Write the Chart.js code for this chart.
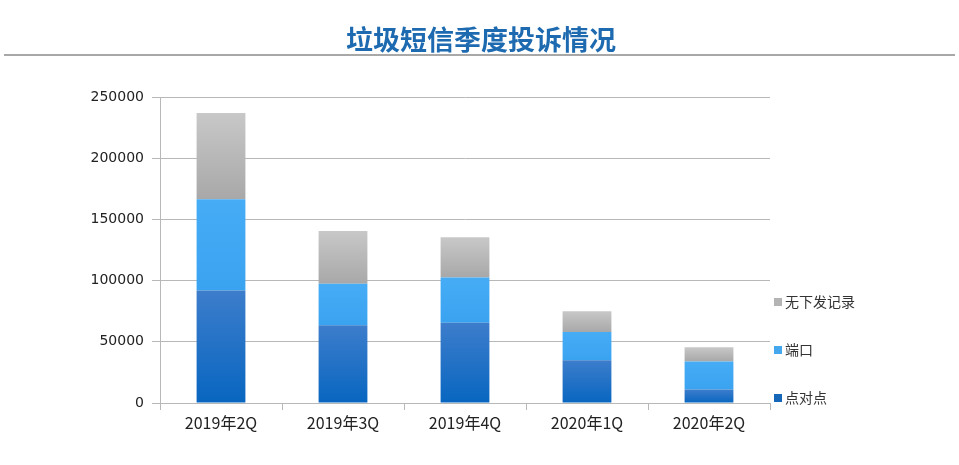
<!DOCTYPE html>
<html>
<head>
<meta charset="utf-8">
<script src="https://cdn.jsdelivr.net/npm/chart.js@4/dist/chart.umd.min.js"></script>
<style>
  html, body { margin: 0; padding: 0; background: #fff; }
  #wrap { position: relative; width: 959px; height: 465px; }
</style>
</head>
<body>
<div id="wrap"><canvas id="chart" width="959" height="465"></canvas></div>
<script>
var quarters = ['2019年2Q', '2019年3Q', '2019年4Q', '2020年1Q', '2020年2Q'];
var pointToPoint = [92000, 63500, 65500, 35000, 11000];
var portMsgs = [74500, 34000, 37000, 23000, 23000];
var noRecord = [70500, 43000, 33000, 17000, 11500];
var seriesNames = ['点对点', '端口', '无下发记录'];
var yTicks = [0, 50000, 100000, 150000, 200000, 250000];
var titleText = '垃圾短信季度投诉情况';

var allSeries = [pointToPoint, portMsgs, noRecord];
var legendColors = ['#1667b8', '#45a8ee', '#b4b4b4'];

// vertical gradient over each stacked segment
function segGradient(top, bottom, dsIndex) {
    return function (ctx) {
        var chart = ctx.chart;
        var y = chart.scales && chart.scales.y;
        if (!y || ctx.type !== 'data' || !chart.chartArea) return bottom;
        var base = 0;
        for (var k = 0; k < dsIndex; k++) base += allSeries[k][ctx.dataIndex];
        var y0 = y.getPixelForValue(base + allSeries[dsIndex][ctx.dataIndex]);
        var y1 = y.getPixelForValue(base);
        if (!isFinite(y0) || !isFinite(y1) || y0 === y1) return bottom;
        var g = chart.ctx.createLinearGradient(0, y0, 0, y1);
        g.addColorStop(0, top);
        g.addColorStop(1, bottom);
        return g;
    };
}

var decorations = {
    id: 'decorations',
    afterDraw: function (chart) {
        var c = chart.ctx;
        c.save();
        // title
        c.font = 'bold 27px "Noto Sans CJK SC", sans-serif';
        c.fillStyle = '#1d6ab0';
        c.textAlign = 'center';
        c.textBaseline = 'middle';
        c.fillText(titleText, 481, 40);
        // rule under the title
        c.strokeStyle = '#a8a8a8';
        c.lineWidth = 2;
        c.beginPath();
        c.moveTo(4, 55);
        c.lineTo(955, 55);
        c.stroke();
        // legend, reversed order
        c.font = '14px "Noto Sans CJK SC", sans-serif';
        c.textAlign = 'left';
        var area = chart.chartArea;
        for (var i = 0; i < seriesNames.length; i++) {
            var yy = area.bottom - 5 - i * 48;
            c.fillStyle = legendColors[i];
            c.fillRect(area.right + 4, yy - 4, 8, 8);
            c.fillStyle = '#333';
            c.fillText(seriesNames[i], area.right + 15, yy);
        }
        c.restore();
    }
};

new Chart(document.getElementById('chart'), {
    type: 'bar',
    data: {
        labels: quarters,
        datasets: [
            {
                label: seriesNames[0],
                data: pointToPoint,
                backgroundColor: segGradient('#3d7dcc', '#0866c0', 0),
            },
            {
                label: seriesNames[1],
                data: portMsgs,
                backgroundColor: segGradient('#46acf6', '#3aa3f0', 1),
            },
            {
                label: seriesNames[2],
                data: noRecord,
                backgroundColor: segGradient('#c8c8c8', '#a8a8a8', 2),
            }
        ]
    },
    options: {
        responsive: false,
        animation: false,
        layout: { padding: { left: 60, right: 189, top: 97, bottom: 22 } },
        datasets: { bar: { barPercentage: 0.4, categoryPercentage: 1 } },
        scales: {
            x: {
                stacked: true,
                grid: { drawOnChartArea: false, tickLength: 7, color: '#b8b8b8' },
                border: { color: '#b8b8b8' },
                ticks: { font: { size: 16, family: '"Noto Sans CJK SC", sans-serif' }, color: '#222', padding: 3 },
                afterFit: function (s) { s.height = 40; }
            },
            y: {
                stacked: true,
                min: 0,
                max: 250000,
                afterBuildTicks: function (s) { s.ticks = yTicks.map(function (v) { return { value: v }; }); },
                grid: { color: '#b8b8b8', tickLength: 8 },
                border: { color: '#b8b8b8' },
                ticks: {
                    font: { size: 14, family: '"DejaVu Sans", sans-serif' },
                    color: '#222',
                    padding: 8,
                    callback: function (v) { return String(v); }
                },
                afterFit: function (s) { s.width = 100; }
            }
        },
        plugins: {
            legend: { display: false },
            tooltip: { enabled: false }
        }
    },
    plugins: [decorations]
});
</script>
</body>
</html>
